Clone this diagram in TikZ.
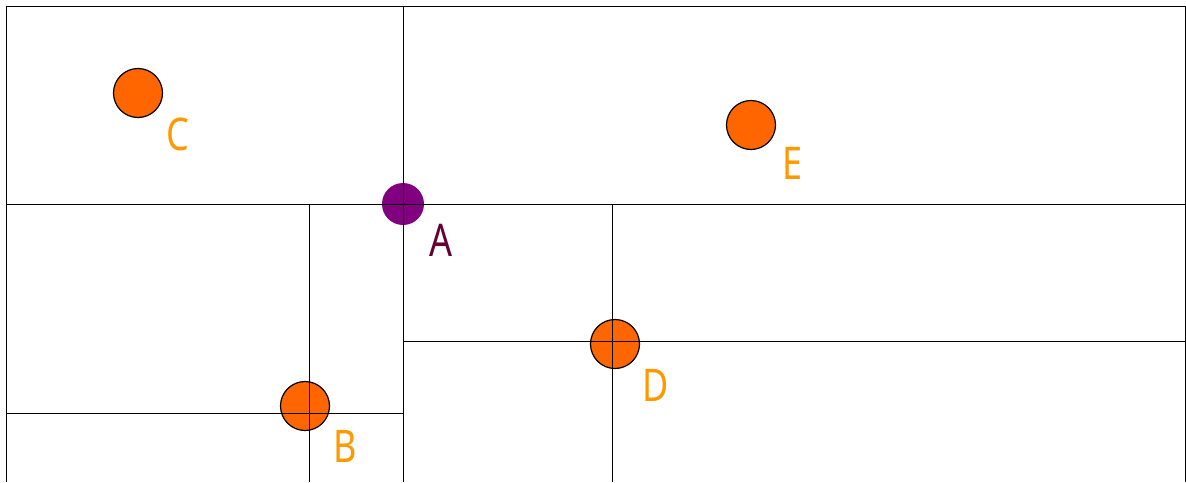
\documentclass[tikz,border=0pt]{standalone}
\usepackage{fontspec}
\newfontfamily\ptfont[FakeStretch=0.8]{Noto Sans}
\usetikzlibrary{positioning}
\definecolor{pointorange}{RGB}{255,102,0}
\definecolor{labelorange}{RGB}{255,153,0}
\definecolor{pointviolet}{RGB}{128,0,128}
\definecolor{labelviolet}{RGB}{102,0,51}

\begin{document}
\begin{tikzpicture}[x=1pt,y=-1pt,
    kpoint/.style={circle,fill=pointorange,draw=black,line width=1.2pt,
                   minimum size=49pt,inner sep=0pt},
    rootpoint/.style={circle,fill=pointviolet,minimum size=42pt,inner sep=0pt},
    kname/.style={font=\ptfont\fontsize{45}{45}\selectfont,text=labelorange,inner sep=0pt},
    cut/.style={line width=1pt,black}]
      \useasboundingbox (0,0) rectangle (1186,482);
      % points
      \node[rootpoint] (pA) at (403,204) {};
      \node[kpoint] (pB) at (305,406) {};
      \node[kpoint] (pC) at (138,93) {};
      \node[kpoint] (pD) at (615,344) {};
      \node[kpoint] (pE) at (751,125) {};
      % names
      \node[kname,text=labelviolet] (nA) at (441,240) {A};
      \node[kname] (nB) at (345,446) {B};
      \node[kname] (nC) at (178,134) {C};
      \node[kname] (nD) at (656,385) {D};
      \node[kname] (nE) at (792,163) {E};
      % frame
      \draw[cut](6,482)--(6,6)--(1185,6)--(1185,482);
      % splits
      \draw[cut](403,6)--(403,482);
      \draw[cut](6,204)--(1185,204);
      \draw[cut](309,204)--(309,482);
      \draw[cut](6,413)--(403,413);
      \draw[cut](403,341)--(1185,341);
      \draw[cut](612,204)--(612,482);
\end{tikzpicture}
\end{document}
